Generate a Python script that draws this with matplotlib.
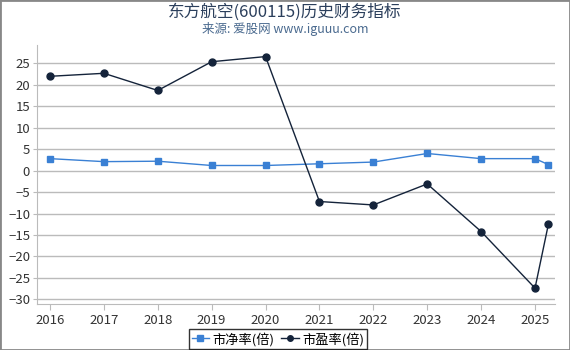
import matplotlib
matplotlib.use("Agg")
import matplotlib.pyplot as plt
from matplotlib.patches import Rectangle

plt.rcParams['font.family'] = ['Noto Sans CJK SC', 'DejaVu Sans']

x_dates = [2016, 2017, 2018, 2019, 2020, 2021, 2022, 2023, 2024, 2025, 2025.25]
pb = [2.8, 2.1, 2.2, 1.2, 1.2, 1.6, 2.0, 4.0, 2.8, 2.8, 1.4]
pe = [22.0, 22.7, 18.7, 25.4, 26.6, -7.2, -8.0, -3.1, -14.2, -27.4, -12.4]
xticks = [2016, 2017, 2018, 2019, 2020, 2021, 2022, 2023, 2024, 2025]
yticks = [25, 20, 15, 10, 5, 0, -5, -10, -15, -20, -25, -30]

fig = plt.figure(figsize=(5.7, 3.5), dpi=100)
ax = fig.add_axes([37/570, 1 - 304/350, (555-37)/570, (304-45)/350])

ax.plot(x_dates, pb, color='#3a80d4', marker='s', markersize=5, linewidth=1,
        label='市净率(倍)', zorder=3)
ax.plot(x_dates, pe, color='#14233a', marker='o', markersize=5, linewidth=1,
        label='市盈率(倍)', zorder=3)

ax.set_xlim(2015.759, 2025.371)
ax.set_ylim(-31.1, 29.3)
ax.set_xticks(xticks)
ax.set_xticklabels([str(v) for v in xticks])
ax.set_yticks(yticks)
ax.grid(axis='y', color='#bbbbbb', linewidth=1)
ax.set_axisbelow(True)
for s in ['top', 'right']:
    ax.spines[s].set_visible(False)
ax.spines['left'].set_color('#bbbbbb')
ax.spines['bottom'].set_color('#bbbbbb')
ax.tick_params(axis='both', colors='#bbbbbb', labelcolor='#333333', labelsize=9.5, length=4)
ax.tick_params(axis='y', length=3, pad=2)

fig.text(0.5, 0.965, '东方航空(600115)历史财务指标', ha='center', va='center',
         fontsize=12, color='#2b3f5c')
fig.text(0.5, 0.918, '来源: 爱股网 www.iguuu.com', ha='center', va='center',
         fontsize=9, color='#4a6a8f')

leg = fig.legend(loc='lower center', bbox_to_anchor=(0.488, 0.0), ncol=2, fontsize=9.5,
                 frameon=True, fancybox=False, edgecolor='black', handlelength=1.3,
                 handletextpad=0.3, columnspacing=0.5, borderpad=0.2, markerscale=0.8,
                 borderaxespad=0.1)
leg.get_frame().set_linewidth(1)

fig.patches.append(Rectangle((0, 0), 1, 1, transform=fig.transFigure, fill=False,
                             edgecolor='#888888', linewidth=2))

fig.savefig('out.png', dpi=100)
